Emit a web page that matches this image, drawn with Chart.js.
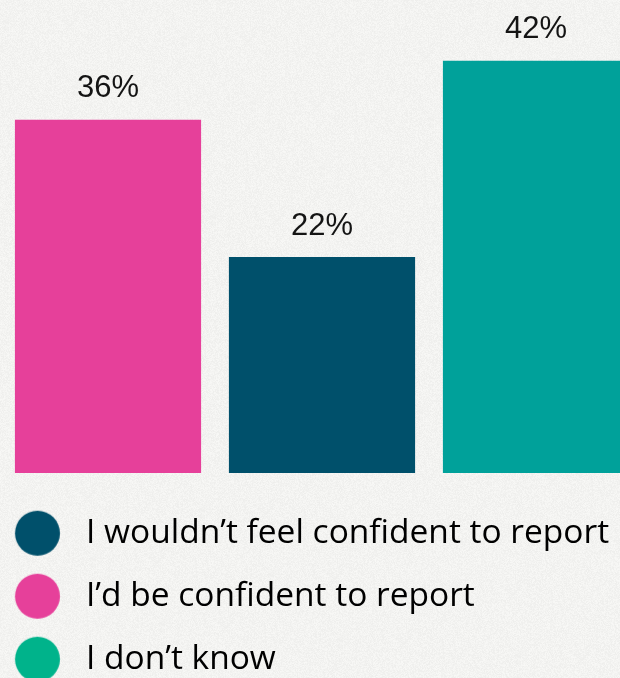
<!DOCTYPE html>
<html>
<head>
<meta charset="utf-8">
<script src="https://cdn.jsdelivr.net/npm/chart.js@4.4.1/dist/chart.umd.min.js"></script>
<style>
html,body{margin:0;padding:0;overflow:hidden;background:#f2f2f0;}
canvas{display:block;}
</style>
</head>
<body>
<canvas id="confidenceChart" width="643" height="686"></canvas>
<script>

/* ==========================================
   DATA
========================================== */

const CATEGORIES = ["I’d be confident to report", "I wouldn’t feel confident to report", "I don’t know"];

const VALUES = [36, 22, 42];

const BAR_COLORS = ["#E6409A", "#00506B", "#00A19A"];

const LEGEND_LABELS = ["I wouldn’t feel confident to report", "I’d be confident to report", "I don’t know"];

const LEGEND_COLORS = ["#00506B", "#E6409A", "#00B38B"];


/* ==========================================
   LEGEND METRICS
========================================== */

const LEGEND_FONT = 33.5;
const LEGEND_ROW = 63;
const LEGEND_PAD = LEGEND_ROW - LEGEND_FONT;
const DOT_RADIUS = 22.5;
// box width so the text starts at x=86, dot is shifted back to x=37.5
const LEGEND_BOX = 86 - (1 + LEGEND_PAD) - LEGEND_FONT / 2;
const DOT_SHIFT = 37.5 - (1 + LEGEND_PAD + LEGEND_BOX / 2);

function makeDot(color){

    const c = document.createElement("canvas");
    const half = Math.ceil(Math.abs(DOT_SHIFT) + DOT_RADIUS + 1);
    c.width = half * 2;
    c.height = Math.ceil(DOT_RADIUS * 2 + 2);

    const g = c.getContext("2d");
    g.fillStyle = color;
    g.beginPath();
    g.arc(half + DOT_SHIFT, c.height / 2, DOT_RADIUS, 0, Math.PI * 2);
    g.fill();

    return c;

}

const DOTS = LEGEND_COLORS.map(makeDot);


/* ==========================================
   PAPER BACKGROUND
========================================== */

function makePaper(w, h){

    const c = document.createElement("canvas");
    c.width = w;
    c.height = h;
    const g = c.getContext("2d");
    const img = g.createImageData(w, h);

    let seed = 1234567;
    const rnd = ()=>{
        seed = (seed * 1103515245 + 12345) & 0x7fffffff;
        return seed / 0x7fffffff;
    };

    for(let i = 0; i < w * h; i++){
        const n = (rnd() - 0.5) * 10;
        const v = 243 + n;
        img.data[i * 4] = v;
        img.data[i * 4 + 1] = v;
        img.data[i * 4 + 2] = v - 2;
        img.data[i * 4 + 3] = 255;
    }

    g.putImageData(img, 0, 0);
    return c;

}

const paperPlugin = {

    id: "paper",

    beforeDraw(chart){

        if(!chart.$paper){
            chart.$paper = makePaper(chart.width, chart.height);
        }

        chart.ctx.drawImage(chart.$paper, 0, 0);

    }

};


/* ==========================================
   VALUE LABELS
========================================== */

const valueLabels = {

    id: "valueLabels",

    afterDatasetsDraw(chart){

        const ctx = chart.ctx;
        const meta = chart.getDatasetMeta(0);

        ctx.save();
        ctx.font = "31px 'Liberation Sans', Arial, sans-serif";
        ctx.fillStyle = "#141414";
        ctx.textAlign = "center";
        ctx.textBaseline = "alphabetic";

        meta.data.forEach((bar, i)=>{
            ctx.fillText(VALUES[i] + "%", bar.x, bar.y - 22.5);
        });

        ctx.restore();

    }

};


/* ==========================================
   CHART
========================================== */

const ctx = document.getElementById("confidenceChart").getContext("2d");

new Chart(ctx, {

    type: "bar",

    data: {

        labels: CATEGORIES,

        datasets: [{

            data: VALUES,

            backgroundColor: BAR_COLORS,

            borderWidth: 0,

            categoryPercentage: 1,

            barPercentage: 0.87

        }]

    },

    options: {

        responsive: false,

        animation: false,

        layout: {

            padding: { left: 1, right: 0, top: 0, bottom: 0 }

        },

        plugins: {

            tooltip: { enabled: false },

            legend: {

                position: "bottom",

                align: "start",

                labels: {

                    usePointStyle: true,

                    pointStyleWidth: LEGEND_BOX,

                    padding: LEGEND_PAD,

                    color: "#111111",

                    font: {

                        family: "'Open Sans', 'Noto Sans', sans-serif",

                        size: LEGEND_FONT

                    },

                    generateLabels(){

                        return LEGEND_LABELS.map((text, i)=>({

                            text,

                            fillStyle: LEGEND_COLORS[i],

                            strokeStyle: "rgba(0,0,0,0)",

                            lineWidth: 0,

                            pointStyle: DOTS[i],

                            hidden: false,

                            datasetIndex: 0

                        }));

                    }

                }

            }

        },

        scales: {

            x: {

                display: true,

                border: { display: false },

                grid: {

                    display: true,

                    drawOnChartArea: false,

                    drawTicks: true,

                    tickLength: 14,

                    color: "rgba(0,0,0,0)"

                },

                ticks: { display: false }

            },

            y: {

                display: false,

                min: 0,

                max: 48.2

            }

        }

    },

    plugins: [paperPlugin, valueLabels]

});

</script>
</body>
</html>
